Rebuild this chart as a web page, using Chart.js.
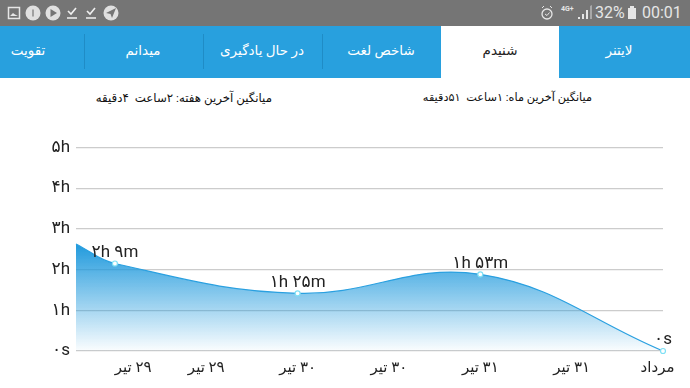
<!DOCTYPE html>
<html>
<head>
<meta charset="utf-8">
<script src="https://cdn.jsdelivr.net/npm/chart.js@4/dist/chart.umd.min.js"></script>
<style>
  html, body { margin: 0; padding: 0; background: #fff; }
  body { width: 690px; height: 388px; overflow: hidden; position: relative; font-family: Roboto, "DejaVu Sans", sans-serif; }
  #status { position: absolute; left: 0; top: 0; width: 690px; height: 26px; background: #757575; color: #e6e6e6; }
  #status svg { position: absolute; left: 0; top: 0; }
  .stat { position: absolute; top: 3px; font-size: 16px; line-height: 20px; }
  #tabs { position: absolute; left: 0; top: 26px; width: 690px; height: 52px; background: #28a0de; }
  .tab { position: absolute; top: 0; height: 50px; line-height: 49px; width: 120px; text-align: center; color: #fff; font-size: 13.500px; white-space: nowrap; }
  .tab.on { color: #222; }
  .sep { position: absolute; top: 8px; width: 1px; height: 35px; background: #1f8cc6; }
  #active { position: absolute; left: 441px; top: 0; width: 118px; height: 52px; background: #fff; }
  .avg { position: absolute; top: 89px; line-height: 18px; color: #111; white-space: pre; direction: rtl; }
  #wrap { position: absolute; left: 0; top: 78px; width: 690px; height: 310px; }
</style>
</head>
<body>
<div id="status">
  <svg width="690" height="26" fill="none">
    <rect x="8.5" y="7.5" width="11" height="11" fill="#757575" stroke="#e6e6e6" stroke-width="1.5"/>
    <path d="M10 16l3-3 2 1.5 3 1.5z" fill="#e6e6e6"/>
    <circle cx="33" cy="13" r="7.5" fill="#e0e0e0"/>
    <path d="M33 9.5v7" stroke="#757575" stroke-width="1.2"/>
    <circle cx="53" cy="13" r="7.5" fill="#e0e0e0"/>
    <path d="M50.5 9l6.5 4-6.5 4z" fill="#757575"/>
    <path d="M68 11l3 3 5-6M67 18h10" stroke="#f0f0f0" stroke-width="1.6"/>
    <path d="M87 11l3 3 5-6M86 18h10" stroke="#f0f0f0" stroke-width="1.6"/>
    <circle cx="111" cy="13" r="7.5" fill="#e0e0e0"/>
    <path d="M106 13l10-5-4 10-1.5-4z" fill="#757575"/>
    <circle cx="547" cy="14" r="5" stroke="#e6e6e6" stroke-width="1.3"/>
    <path d="M545 14l2 1.500 2.500-3M542 8l2-2M552 8l-2-2" stroke="#e6e6e6"/>
    <path d="M578 19v-2h2v2zM582 19v-5h2v5zM586 19v-9h2v9z" fill="#e6e6e6"/>
    <path d="M590 19V6l2-1v14z" fill="#a8a8a8"/>
    <rect x="628" y="8" width="8" height="11" fill="#e6e6e6"/>
    <rect x="630" y="6" width="4" height="2" fill="#e6e6e6"/>
  </svg>
  <div class="stat" style="left:561px;top:5px;font-size:7px;line-height:8px;font-weight:700">4G+</div>
  <div class="stat" style="left:595px">32%</div>
  <div class="stat" style="left:642px">00:01</div>
</div>
<div id="tabs"></div>
<div class="avg" id="avgWeek" style="left:92px;width:180px;font-size:11.8px"></div>
<div class="avg" id="avgMonth" style="left:412px;width:180px;font-size:11.3px"></div>
<div id="wrap"><canvas id="myChart" width="690" height="310"></canvas></div>
<script>
const tabNames = ['لایتنر', 'شنیدم', 'شاخص لغت', 'در حال یادگیری', 'میدانم', 'تقویت'];
const tabCenters = [619, 500, 381, 262, 143, 28];
const tabSeparators = [84, 203, 322];
const avgWeekText = 'میانگین آخرین هفته: ۲ساعت  ۴دقیقه';
const avgMonthText = 'میانگین آخرین ماه: ۱ساعت  ۵۱دقیقه';

// x is counted in days from the first labelled point, the first entry is where the curve enters the plot
const days = [-0.213, 0, 1, 2, 3];
const hours = [2.63, 2.15, 1.417, 1.883, 0];
const pointLabels = ['', '۲h ۹m', '۱h ۲۵m', '۱h ۵۳m', '۰s'];

const xTickValues = [0.1, 0.5, 1, 1.5, 2, 2.5, 2.97];
const xTickLabels = ['۲۹ تیر', '۲۹ تیر', '۳۰ تیر', '۳۰ تیر', '۳۱ تیر', '۳۱ تیر', 'مرداد'];
const yTickLabels = ['۰s', '۱h', '۲h', '۳h', '۴h', '۵h'];

const tabs = document.getElementById('tabs');
tabs.innerHTML = '<div id="active"></div>';
tabSeparators.forEach(x => {
  tabs.innerHTML += '<div class="sep" style="left:' + x + 'px"></div>';
});
tabNames.forEach((name, i) => {
  const cls = i === 1 ? 'tab on' : 'tab';
  tabs.innerHTML += '<div class="' + cls + '" dir="rtl" style="left:' + (tabCenters[i] - 60) + 'px">' + name + '</div>';
});
document.getElementById('avgWeek').textContent = avgWeekText;
document.getElementById('avgMonth').textContent = avgMonthText;

const labelFont = 'Roboto, "DejaVu Sans", sans-serif';

const pointText = {
  id: 'pointText',
  afterDatasetsDraw(chart) {
    const ctx = chart.ctx;
    ctx.save();
    ctx.font = '17px ' + labelFont;
    ctx.fillStyle = '#222';
    ctx.textAlign = 'center';
    ctx.textBaseline = 'middle';
    chart.getDatasetMeta(0).data.forEach((pt, i) => {
      if (pointLabels[i]) ctx.fillText(pointLabels[i], pt.x, pt.y - 11);
    });
    ctx.restore();
  }
};

const ctx = document.getElementById('myChart').getContext('2d');
const myChart = new Chart(ctx, {
  type: 'line',
  data: {
    datasets: [{
      data: days.map((d, i) => ({ x: d, y: hours[i] })),
      borderColor: '#2aa0e0',
      borderWidth: 1.2,
      tension: 0.4,
      clip: false,
      fill: 'origin',
      backgroundColor(c) {
        const area = c.chart.chartArea;
        if (!area) return 'rgba(31,150,220,0.9)';
        const g = c.chart.ctx.createLinearGradient(0, c.chart.scales.y.getPixelForValue(2.63), 0, area.bottom);
        g.addColorStop(0, 'rgba(28,152,220,0.98)');
        g.addColorStop(1, 'rgba(28,152,220,0.02)');
        return g;
      },
      pointRadius: c => (c.dataIndex === 0 ? 0 : 2.5),
      pointBackgroundColor: '#ffffff',
      pointBorderColor: '#7fe0f5',
      pointBorderWidth: 1.2
    }]
  },
  options: {
    responsive: false,
    animation: false,
    layout: { padding: { top: 69.5, right: 27, left: 0, bottom: 0 } },
    plugins: { legend: { display: false }, tooltip: { enabled: false } },
    scales: {
      x: {
        type: 'linear',
        min: -0.213,
        max: 3,
        border: { display: false },
        grid: { display: false },
        afterBuildTicks(axis) { axis.ticks = xTickValues.map(v => ({ value: v })); },
        afterFit(axis) { axis.height = 37; axis.paddingLeft = 0; axis.paddingRight = 0; },
        ticks: {
          autoSkip: false,
          maxRotation: 0,
          padding: 0,
          color: '#222',
          font: { family: labelFont, size: 15 },
          callback(value) { return '\u200F' + xTickLabels[xTickValues.indexOf(value)]; }
        }
      },
      y: {
        min: 0,
        max: 5,
        border: { display: false },
        grid: { color: '#cccccc', lineWidth: 1.2, drawTicks: false },
        afterFit(axis) { axis.width = 76; axis.paddingTop = 0; axis.paddingBottom = 0; },
        ticks: {
          stepSize: 1,
          padding: 6,
          color: '#222',
          font: { family: labelFont, size: 17 },
          callback(value) { return yTickLabels[value]; }
        }
      }
    }
  },
  plugins: [pointText]
});
</script>
</body>
</html>
